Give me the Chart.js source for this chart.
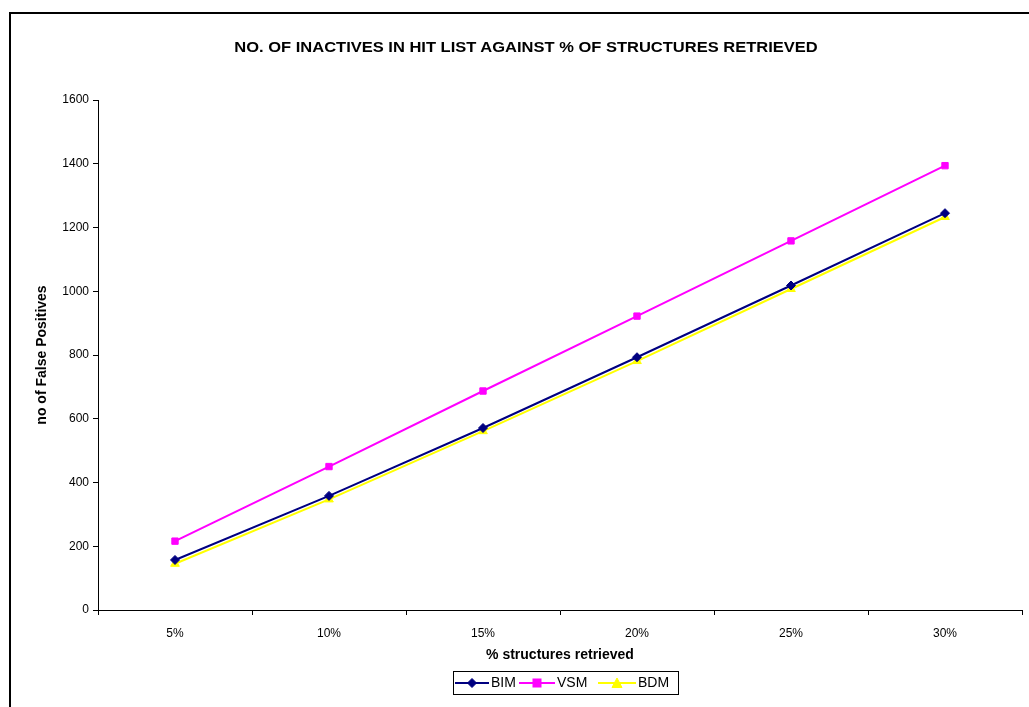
<!DOCTYPE html>
<html>
<head>
<meta charset="utf-8">
<script src="https://cdn.jsdelivr.net/npm/chart.js@4.4.1/dist/chart.umd.min.js"></script>
<style>
  html, body { margin: 0; padding: 0; background: #fff; overflow: hidden; }
  #wrap { position: relative; width: 1029px; height: 707px; }
  #frame { position: absolute; left: 9px; top: 12px; width: 1100px; height: 800px; border: 2px solid #000; box-sizing: border-box; }
  #c { position: absolute; left: 0; top: 0; }
  #title { position: absolute; left: 0; width: 1052px; top: 38px; text-align: center; font: bold 15px Arial, "Liberation Sans", sans-serif; color: #000; transform: scaleX(1.1); transform-origin: 526px 0; white-space: nowrap; }
  #legend { position: absolute; left: 453px; top: 671px; width: 226px; height: 24px; border: 1px solid #000; box-sizing: border-box; font: 14px Arial, "Liberation Sans", sans-serif; color: #000; }
  #legend svg { position: absolute; top: 6px; }
  #legend span { position: absolute; top: 2px; white-space: nowrap; }
</style>
</head>
<body>
<div id="wrap">
  <div id="frame"></div>
  <canvas id="c" width="1029" height="707"></canvas>
  <div id="title">NO. OF INACTIVES IN HIT LIST AGAINST % OF STRUCTURES RETRIEVED</div>
  <div id="legend"></div>
</div>
<script>
const categories = ['5%', '10%', '15%', '20%', '25%', '30%'];
const seriesNames = ['BIM', 'VSM', 'BDM'];
const bimValues = [157, 358, 571, 793, 1018, 1245];
const vsmValues = [216, 450, 687, 922, 1158, 1394];
const bdmValues = [145, 347, 561, 781, 1007, 1233];
const yTicks = [0, 200, 400, 600, 800, 1000, 1200, 1400, 1600];

const colors = ['#000080', '#FF00FF', '#FFFF00'];
const markers = ['rectRot', 'rect', 'triangle'];
const radii = [4.5, 4.5, 5];
const valuesList = [bimValues, vsmValues, bdmValues];

const datasets = seriesNames.map((n, i) => ({
  label: n,
  data: valuesList[i],
  borderColor: colors[i],
  backgroundColor: colors[i],
  borderWidth: 2,
  pointStyle: markers[i],
  pointRadius: radii[i],
  pointHoverRadius: radii[i],
  pointBorderWidth: 1,
  tension: 0,
  fill: false,
  order: i
}));

const tickFont = { family: 'Arial, "Liberation Sans", sans-serif', size: 12 };
const titleFont = { family: 'Arial, "Liberation Sans", sans-serif', size: 14, weight: 'bold' };

new Chart(document.getElementById('c'), {
  type: 'line',
  data: { labels: categories, datasets },
  options: {
    responsive: false,
    animation: false,
    devicePixelRatio: 1,
    layout: { padding: { left: 0, top: 100, right: 7, bottom: 0 } },
    plugins: { legend: { display: false }, title: { display: false }, tooltip: { enabled: false } },
    scales: {
      x: {
        type: 'category',
        offset: true,
        afterFit: s => { s.height = 97; },
        grid: { offset: true, drawOnChartArea: false, drawTicks: true, tickLength: 5, color: '#000', tickColor: '#000' },
        border: { color: '#000', width: 1 },
        ticks: { color: '#000', font: tickFont, padding: 11, maxRotation: 0 },
        title: { display: true, text: '% structures retrieved', color: '#000', font: titleFont, padding: { top: 0, bottom: 43.6 } }
      },
      y: {
        min: 0, max: 1600,
        afterFit: s => { s.width = 98; },
        afterBuildTicks: s => { s.ticks = yTicks.map(v => ({ value: v })); },
        grid: { drawOnChartArea: false, drawTicks: true, tickLength: 5, color: '#000', tickColor: '#000' },
        border: { color: '#000', width: 1 },
        ticks: { color: '#000', font: tickFont, padding: 4, callback: v => String(v) },
        title: { display: true, text: 'no of False Positives', color: '#000', font: titleFont, padding: { top: 33.6, bottom: 0 } }
      }
    }
  }
});

// HTML legend built from the series definitions
const legend = document.getElementById('legend');
const lineStarts = [1, 65, 144];
const lineLens = [34, 36, 38];
seriesNames.forEach((n, i) => {
  const c = colors[i];
  const L = lineLens[i], m = L / 2;
  let mk;
  if (markers[i] === 'rectRot') mk = `<polygon points="${m},0.5 ${m + 4.5},5 ${m},9.5 ${m - 4.5},5" fill="${c}" stroke="${c}"/>`;
  else if (markers[i] === 'rect') mk = `<rect x="${m - 4}" y="1" width="8" height="8" fill="${c}" stroke="${c}"/>`;
  else mk = `<polygon points="${m},0 ${m + 5},9.5 ${m - 5},9.5" fill="${c}" stroke="${c}"/>`;
  const svg = document.createElementNS('http://www.w3.org/2000/svg', 'svg');
  svg.setAttribute('width', String(L)); svg.setAttribute('height', '10');
  svg.style.left = lineStarts[i] + 'px';
  svg.innerHTML = `<line x1="0" y1="5" x2="${L}" y2="5" stroke="${c}" stroke-width="2"/>${mk}`;
  legend.appendChild(svg);
  const sp = document.createElement('span');
  sp.textContent = n;
  sp.style.left = (lineStarts[i] + L + 2) + 'px';
  legend.appendChild(sp);
});
</script>
</body>
</html>
